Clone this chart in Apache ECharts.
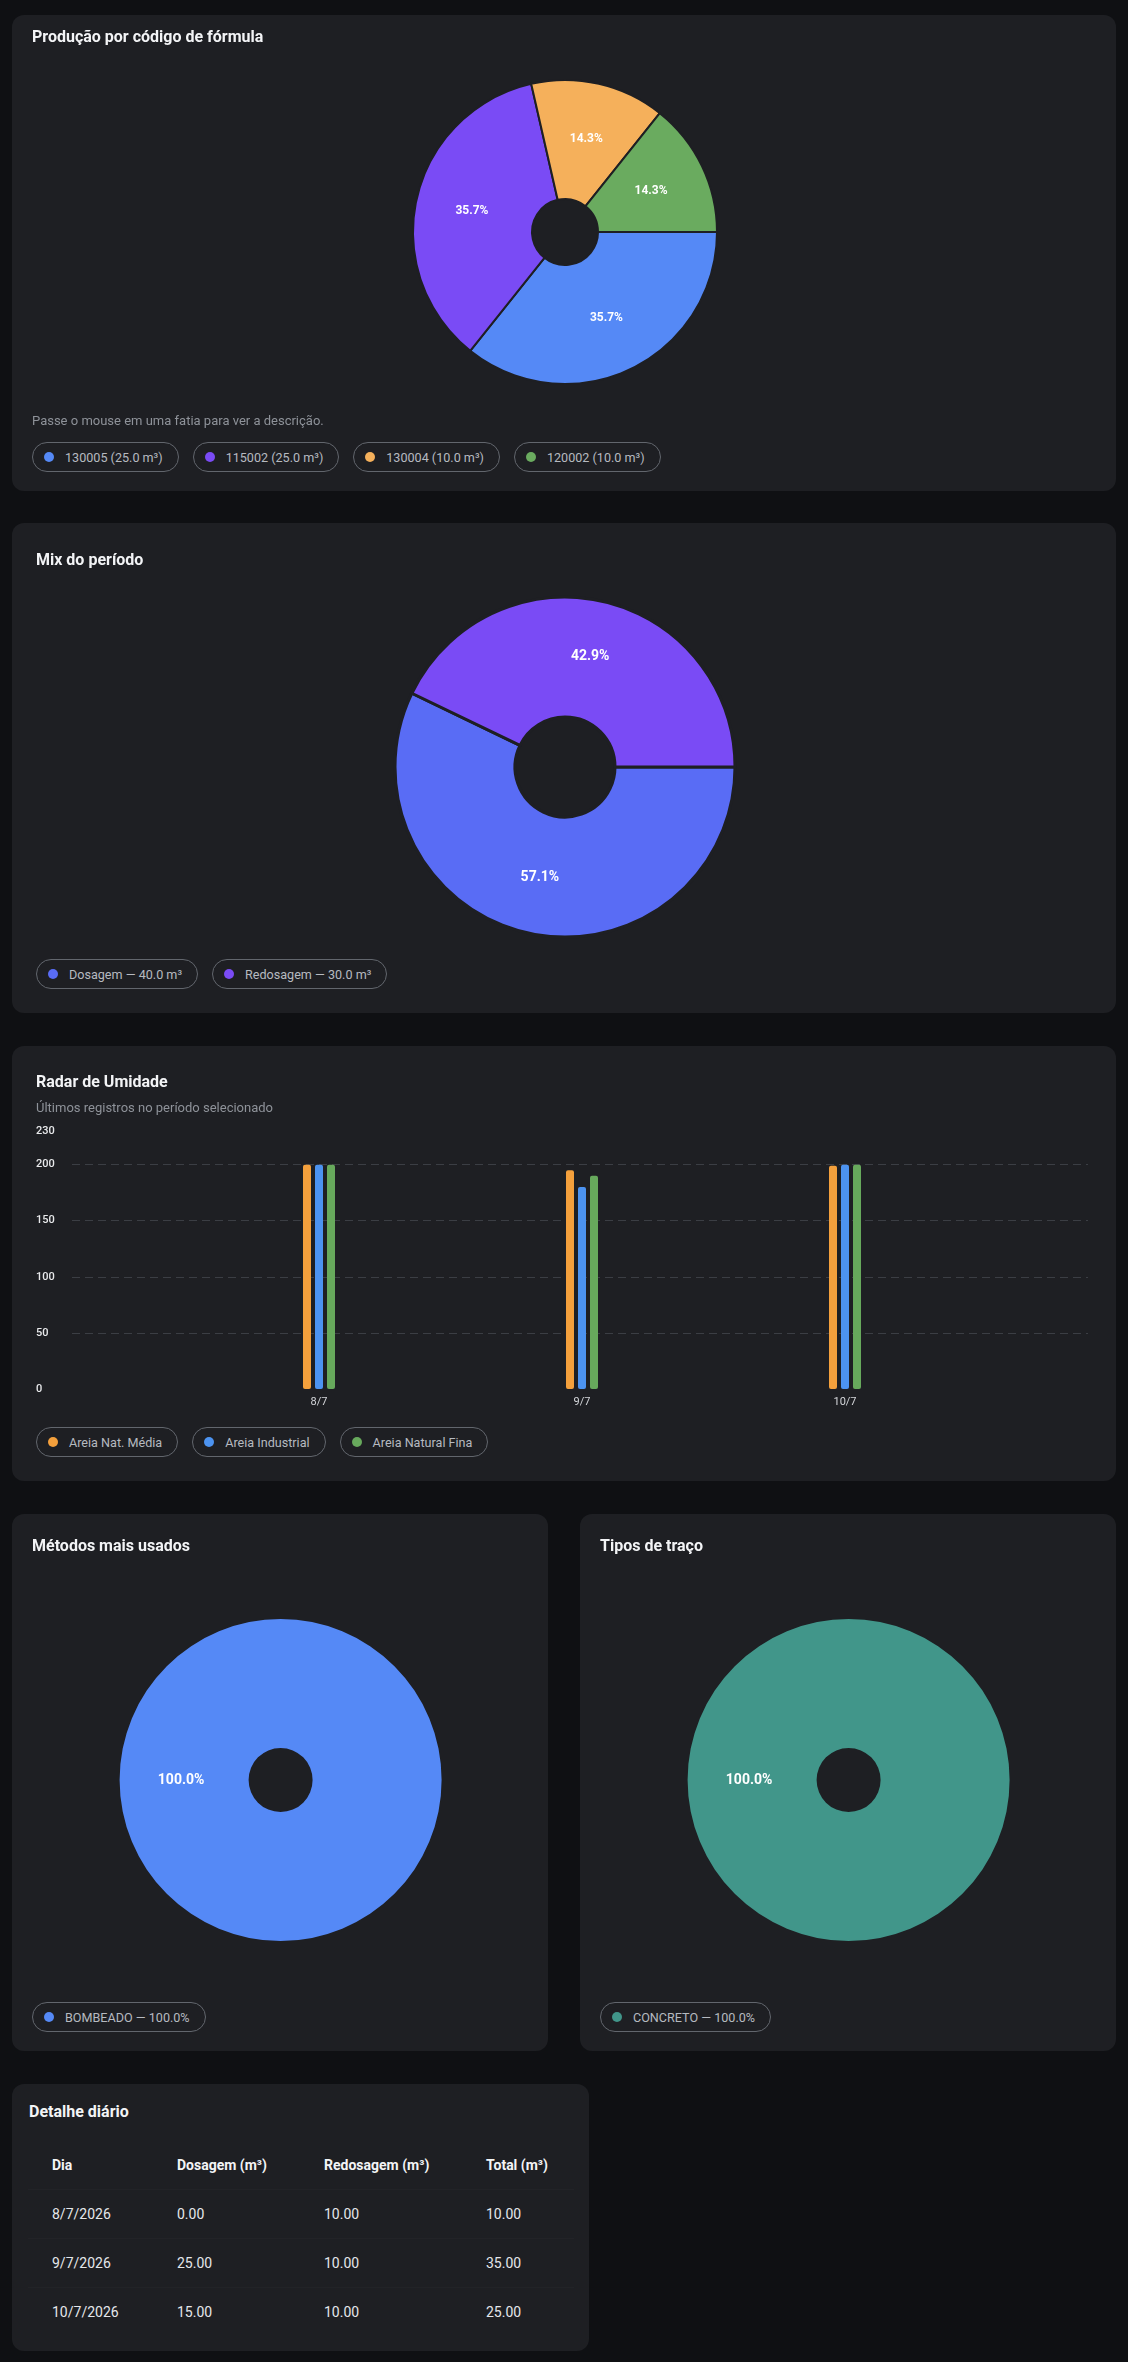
<!DOCTYPE html>
<html lang="pt-BR">
<head>
<meta charset="utf-8">
<script src="https://cdn.jsdelivr.net/npm/echarts@6/dist/echarts.min.js"></script>
<style>
html,body{margin:0;padding:0;background:#0f1013;font-family:Roboto,"Noto Sans",sans-serif;}
body{width:1128px;height:2362px;position:relative;overflow:hidden;}
.card{position:absolute;background:#1e1f23;border-radius:12px;}
.title{position:absolute;color:#f3f4f6;font-size:16px;font-weight:700;line-height:20px;white-space:nowrap;}
.sub{position:absolute;color:#8e9299;font-size:13px;line-height:16px;white-space:nowrap;}
.chips{position:absolute;display:flex;gap:14px;}
.chip{height:30px;box-sizing:border-box;border:1px solid #62666d;border-radius:15px;display:flex;align-items:center;padding:0 15px 0 11px;color:#b6bac0;font-size:12.6px;white-space:nowrap;}
.dot{width:10px;height:10px;border-radius:50%;margin-right:11px;flex:none;}
.chart{position:absolute;left:0;top:0;}
table.tbl{position:absolute;left:16px;top:57px;width:546px;border-collapse:collapse;table-layout:fixed;}
.tbl th,.tbl td{text-align:left;padding:0 0 0 24px;height:48px;font-size:14px;white-space:nowrap;}
.tbl th{color:#f3f4f6;font-weight:700;}
.tbl td{color:#e5e7eb;border-top:1px solid #222327;}
</style>
</head>
<body>

<div class="card" style="left:12px;top:15px;width:1104px;height:476px;">
  <div class="chart" id="c1" style="width:1104px;height:400px;"></div>
  <div class="title" style="left:20px;top:12px;">Produção por código de fórmula</div>
  <div class="sub" style="left:20px;top:398px;">Passe o mouse em uma fatia para ver a descrição.</div>
  <div class="chips" id="chips1" style="left:20px;top:427px;"></div>
</div>

<div class="card" style="left:12px;top:523px;width:1104px;height:490px;">
  <div class="chart" id="c2" style="width:1104px;height:430px;"></div>
  <div class="title" style="left:24px;top:27px;">Mix do período</div>
  <div class="chips" id="chips2" style="left:24px;top:436px;"></div>
</div>

<div class="card" style="left:12px;top:1046px;width:1104px;height:435px;">
  <div class="chart" id="c3" style="width:1104px;height:375px;"></div>
  <div class="title" style="left:24px;top:26px;">Radar de Umidade</div>
  <div class="sub" style="left:24px;top:54px;">Últimos registros no período selecionado</div>
  <div class="chips" id="chips3" style="left:24px;top:381px;"></div>
</div>

<div class="card" style="left:12px;top:1514px;width:536px;height:537px;">
  <div class="chart" id="c4" style="width:536px;height:480px;"></div>
  <div class="title" style="left:20px;top:22px;">Métodos mais usados</div>
  <div class="chips" id="chips4" style="left:20px;top:488px;"></div>
</div>

<div class="card" style="left:580px;top:1514px;width:536px;height:537px;">
  <div class="chart" id="c5" style="width:536px;height:480px;"></div>
  <div class="title" style="left:20px;top:22px;">Tipos de traço</div>
  <div class="chips" id="chips5" style="left:20px;top:488px;"></div>
</div>

<div class="card" style="left:12px;top:2084px;width:577px;height:267px;">
  <div class="title" style="left:17px;top:18px;">Detalhe diário</div>
  <table class="tbl" id="tbl">
    <colgroup><col style="width:125px"><col style="width:147px"><col style="width:162px"><col style="width:112px"></colgroup>
  </table>
</div>

<script>
// ---- data ----
const formulaCodes = ['130005', '115002', '130004', '120002'];
const formulaVolumes = [25.0, 25.0, 10.0, 10.0];

const mixNames = ['Dosagem', 'Redosagem'];
const mixVolumes = [40.0, 30.0];

const humidityDays = ['8/7', '9/7', '10/7'];
const humiditySeriesNames = ['Areia Nat. Média', 'Areia Industrial', 'Areia Natural Fina'];
const areiaNatMedia = [200, 195, 199];
const areiaIndustrial = [200, 180, 200];
const areiaNaturalFina = [200, 190, 200];
const humidityAxisMax = 230;
const humidityAxisInterval = 50;

const methodNames = ['BOMBEADO'];
const methodShares = [100];

const traceNames = ['CONCRETO'];
const traceShares = [100];

const tableHeaders = ['Dia', 'Dosagem (m³)', 'Redosagem (m³)', 'Total (m³)'];
const tableDays = ['8/7/2026', '9/7/2026', '10/7/2026'];
const tableDosagem = [0.00, 25.00, 15.00];
const tableRedosagem = [10.00, 10.00, 10.00];
const tableTotal = [10.00, 35.00, 25.00];

// ---- styles ----
const formulaColors = ['#5589f6', '#7a4bf5', '#f5b05b', '#6aab5f'];
const mixColors = ['#596cf5', '#7a4bf5'];
const humidityColors = ['#f4a03c', '#4c93f0', '#67a95c'];
const methodColors = ['#5589f6'];
const traceColors = ['#41968a'];
const CARD_BG = '#1e1f23';
const FONT = 'Roboto';

function chips(id, labels, colors) {
  const el = document.getElementById(id);
  labels.forEach((t, i) => {
    const c = document.createElement('div');
    c.className = 'chip';
    const d = document.createElement('span');
    d.className = 'dot';
    d.style.background = colors[i % colors.length];
    c.appendChild(d);
    c.appendChild(document.createTextNode(t));
    el.appendChild(c);
  });
}

function pieOption(names, values, colors, center, radius, borderW, fontSize) {
  return {
    animation: false,
    textStyle: { fontFamily: FONT },
    series: [{
      type: 'pie',
      center: center,
      radius: radius,
      startAngle: 0,
      clockwise: true,
      percentPrecision: 3,
      avoidLabelOverlap: false,
      itemStyle: { borderColor: CARD_BG, borderWidth: borderW },
      label: {
        show: true, position: 'inside', color: '#ffffff',
        fontFamily: FONT, fontWeight: 'bold', fontSize: fontSize,
        textBorderWidth: 0,
        formatter: p => p.percent.toFixed(1) + '%'
      },
      labelLine: { show: false },
      emphasis: { disabled: true },
      data: names.map((n, i) => ({ name: n, value: values[i], itemStyle: { color: colors[i] } }))
    }]
  };
}

// chart 1
echarts.init(document.getElementById('c1')).setOption(
  pieOption(formulaCodes, formulaVolumes, formulaColors, [553, 217], [33, 152], 2, 12));
chips('chips1', formulaCodes.map((c, i) => `${c} (${formulaVolumes[i].toFixed(1)} m³)`), formulaColors);

// chart 2
echarts.init(document.getElementById('c2')).setOption(
  pieOption(mixNames, mixVolumes, mixColors, [553, 244], [50, 170], 3, 14));
chips('chips2', mixNames.map((n, i) => `${n} — ${mixVolumes[i].toFixed(1)} m³`), mixColors);

// chart 3
const humidityData = [areiaNatMedia, areiaIndustrial, areiaNaturalFina];
echarts.init(document.getElementById('c3')).setOption({
  animation: false,
  textStyle: { fontFamily: FONT },
  grid: [
    { left: 60, right: 28, top: 85, height: 258 },
    { left: 175.5, width: 789, top: 85, height: 258 }
  ],
  xAxis: [
    { type: 'value', gridIndex: 0, show: false, min: 0, max: 1 },
    {
      type: 'category', gridIndex: 1, data: humidityDays,
      axisLine: { show: false }, axisTick: { show: false },
      axisLabel: { color: '#d4d6da', fontSize: 11, margin: 8, fontFamily: FONT }
    }
  ],
  yAxis: [
    {
      type: 'value', gridIndex: 0, min: 0, max: humidityAxisMax, interval: humidityAxisInterval,
      axisLine: { show: false }, axisTick: { show: false },
      axisLabel: { color: '#e8e9eb', fontSize: 11, align: 'left', margin: 36, fontWeight: 500, fontFamily: FONT },
      splitLine: { show: true, showMinLine: false, showMaxLine: false,
        lineStyle: { color: '#3b3e44', type: [8, 5], width: 1 } }
    },
    { type: 'value', gridIndex: 1, min: 0, max: humidityAxisMax, show: false, splitLine: { show: false } }
  ],
  series: humidityData.map((d, i) => ({
    type: 'bar', name: humiditySeriesNames[i], xAxisIndex: 1, yAxisIndex: 1,
    data: d, barWidth: 8, barGap: '50%',
    itemStyle: { color: humidityColors[i], borderRadius: 2 },
    emphasis: { disabled: true }
  }))
});
chips('chips3', humiditySeriesNames, humidityColors);

// chart 4
echarts.init(document.getElementById('c4')).setOption(
  pieOption(methodNames, methodShares, methodColors, [268.6, 266], [32, 161], 0, 14));
chips('chips4', methodNames.map((n, i) => `${n} — ${methodShares[i].toFixed(1)}%`), methodColors);

// chart 5
echarts.init(document.getElementById('c5')).setOption(
  pieOption(traceNames, traceShares, traceColors, [268.6, 266], [32, 161], 0, 14));
chips('chips5', traceNames.map((n, i) => `${n} — ${traceShares[i].toFixed(1)}%`), traceColors);

// table
const tbl = document.getElementById('tbl');
const thead = document.createElement('tr');
tableHeaders.forEach(h => { const th = document.createElement('th'); th.textContent = h; thead.appendChild(th); });
tbl.appendChild(thead);
tableDays.forEach((d, i) => {
  const tr = document.createElement('tr');
  [d, tableDosagem[i].toFixed(2), tableRedosagem[i].toFixed(2), tableTotal[i].toFixed(2)].forEach(v => {
    const td = document.createElement('td'); td.textContent = v; tr.appendChild(td);
  });
  tbl.appendChild(tr);
});
</script>
</body>
</html>
